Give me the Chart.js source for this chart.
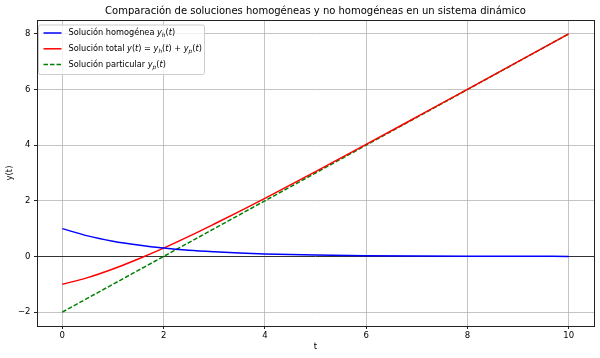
<!DOCTYPE html>
<html>
<head>
<meta charset="utf-8">
<script src="https://cdn.jsdelivr.net/npm/chart.js@4"></script>
<style>
  body { margin: 0; background: #fff; }
  #solChart { display: block; }
</style>
</head>
<body>
<canvas id="solChart" width="600" height="358"></canvas>
<script>
// Valeurs
const tValues = [0, 0.5, 1, 1.5, 2, 2.5, 3, 3.5, 4, 5, 6, 7, 8, 9, 10];
const homogenea = [1.00, 0.74, 0.55, 0.41, 0.30, 0.22, 0.165, 0.122, 0.09, 0.05, 0.027, 0.015, 0.008, 0.0045, 0.0025];
const total = [-1.00, -0.76, -0.45, -0.09, 0.30, 0.72, 1.165, 1.622, 2.09, 3.05, 4.027, 5.015, 6.008, 7.0045, 8.0025];
const particular = [-2, -1.5, -1, -0.5, 0, 0.5, 1, 1.5, 2, 3, 4, 5, 6, 7, 8];

const xTicks = [0, 2, 4, 6, 8, 10];
const yTicks = [-2, 0, 2, 4, 6, 8];

const titleText = "Comparación de soluciones homogéneas y no homogéneas en un sistema dinámico";

const FONT = "'DejaVu Sans', sans-serif";

function toPoints(ys) {
  return tValues.map((t, i) => ({ x: t, y: ys[i] }));
}

function fmt(v) {
  return v < 0 ? "\u2212" + Math.abs(v) : String(v);
}

// légende : morceaux [texte, italique, indice]
const legendItems = [
  { color: "#0000ff", dash: [], parts: [["Solución homogénea ", 0, 0], ["y", 1, 0], ["h", 1, 1], ["(", 0, 0], ["t", 1, 0], [")", 0, 0]] },
  { color: "#ff0000", dash: [], parts: [["Solución total ", 0, 0], ["y", 1, 0], ["(", 0, 0], ["t", 1, 0], [") = ", 0, 0], ["y", 1, 0], ["h", 1, 1], ["(", 0, 0], ["t", 1, 0], [") + ", 0, 0], ["y", 1, 0], ["p", 1, 1], ["(", 0, 0], ["t", 1, 0], [")", 0, 0]] },
  { color: "#008000", dash: [4.5, 2], parts: [["Solución particular ", 0, 0], ["y", 1, 0], ["p", 1, 1], ["(", 0, 0], ["t", 1, 0], [")", 0, 0]] }
];

// titre centré sur la zone du graphique (comme matplotlib)
const titlePlugin = {
  id: "axesTitle",
  afterDraw(chart) {
    const a = chart.chartArea;
    const ctx = chart.ctx;
    ctx.save();
    ctx.fillStyle = "#000";
    ctx.font = "10px " + FONT;
    ctx.textAlign = "center";
    ctx.textBaseline = "middle";
    ctx.fillText(titleText, (a.left + a.right) / 2, 11.5);
    ctx.restore();
  }
};

const framePlugin = {
  id: "frame",
  afterDatasetsDraw(chart) {
    const a = chart.chartArea;
    const ctx = chart.ctx;
    ctx.save();
    ctx.strokeStyle = "#222";
    ctx.lineWidth = 1;
    ctx.strokeRect(Math.round(a.left) + 0.5, Math.round(a.top) + 0.5, Math.round(a.right - a.left), Math.round(a.bottom - a.top));
    ctx.restore();
  }
};

const legendPlugin = {
  id: "mathLegend",
  afterDraw(chart) {
    const ctx = chart.ctx;
    const a = chart.chartArea;
    const x0 = a.left + 1.5, y0 = a.top + 5, w = 166, h = 49.5;
    ctx.save();
    ctx.fillStyle = "rgba(255,255,255,0.8)";
    ctx.strokeStyle = "#cccccc";
    ctx.lineWidth = 1;
    ctx.beginPath();
    ctx.roundRect(x0, y0, w, h, 2);
    ctx.fill();
    ctx.stroke();

    legendItems.forEach((item, i) => {
      const y = y0 + 8 + i * 15.8;
      ctx.strokeStyle = item.color;
      ctx.lineWidth = 1.5;
      ctx.setLineDash(item.dash);
      ctx.beginPath();
      ctx.moveTo(x0 + 5, y);
      ctx.lineTo(x0 + 23, y);
      ctx.stroke();
      ctx.setLineDash([]);

      let x = x0 + 30;
      ctx.fillStyle = "#000";
      ctx.textBaseline = "middle";
      item.parts.forEach(([txt, it, sub]) => {
        const size = sub ? 5.8 : 8.2;
        ctx.font = (it ? "oblique " : "") + size + "px " + FONT;
        ctx.fillText(txt, x, sub ? y + 2.5 : y);
        x += ctx.measureText(txt).width;
      });
    });
    ctx.restore();
  }
};

function initSolChart() {
  const canvas = document.getElementById("solChart");
  const ctx = canvas.getContext("2d");

  new Chart(ctx, {
    type: "scatter",
    data: {
      datasets: [
        { label: "homogenea", data: toPoints(homogenea), borderColor: "#0000ff", borderWidth: 1.5 },
        { label: "total", data: toPoints(total), borderColor: "#ff0000", borderWidth: 1.5 },
        { label: "particular", data: toPoints(particular), borderColor: "#008000", borderWidth: 1.5, borderDash: [4.5, 2] }
      ]
    },
    options: {
      responsive: false,
      animation: false,
      showLine: true,
      elements: {
        point: { radius: 0, hoverRadius: 0 },
        line: { cubicInterpolationMode: "monotone", fill: false }
      },
      layout: { padding: { left: 0, right: 6, top: 20, bottom: 0 } },
      plugins: {
        legend: { display: false },
        tooltip: { enabled: false },
        title: { display: false }
      },
      scales: {
        x: {
          type: "linear",
          min: -0.5,
          max: 10.5,
          afterBuildTicks: (s) => { s.ticks = xTicks.map(v => ({ value: v })); },
          afterFit: (s) => { s.height = 32; },
          border: { display: false },
          grid: { color: "rgba(176,176,176,0.75)", lineWidth: 1, tickLength: 3, tickColor: "#222" },
          ticks: { color: "#000", font: { family: FONT, size: 8.5 }, padding: 2, maxRotation: 0, callback: fmt },
          title: { display: true, text: "t", color: "#000", font: { family: FONT, size: 8.5 }, padding: { top: 0, bottom: 6 } }
        },
        y: {
          type: "linear",
          min: -2.5,
          max: 8.5,
          afterBuildTicks: (s) => { s.ticks = yTicks.map(v => ({ value: v })); },
          afterFit: (s) => { s.width = 37; },
          border: { display: false },
          grid: {
            color: (c) => (c.tick && c.tick.value === 0 ? "#333" : "rgba(176,176,176,0.75)"),
            lineWidth: 1,
            tickLength: 3,
            tickColor: "#222"
          },
          ticks: { color: "#000", font: { family: FONT, size: 8.5 }, padding: 3.5, callback: fmt },
          title: { display: true, text: "y(t)", color: "#000", font: { family: FONT, size: 8.5 }, padding: { top: 5, bottom: 0 } }
        }
      }
    },
    plugins: [titlePlugin, framePlugin, legendPlugin]
  });
}

initSolChart();
</script>
</body>
</html>
